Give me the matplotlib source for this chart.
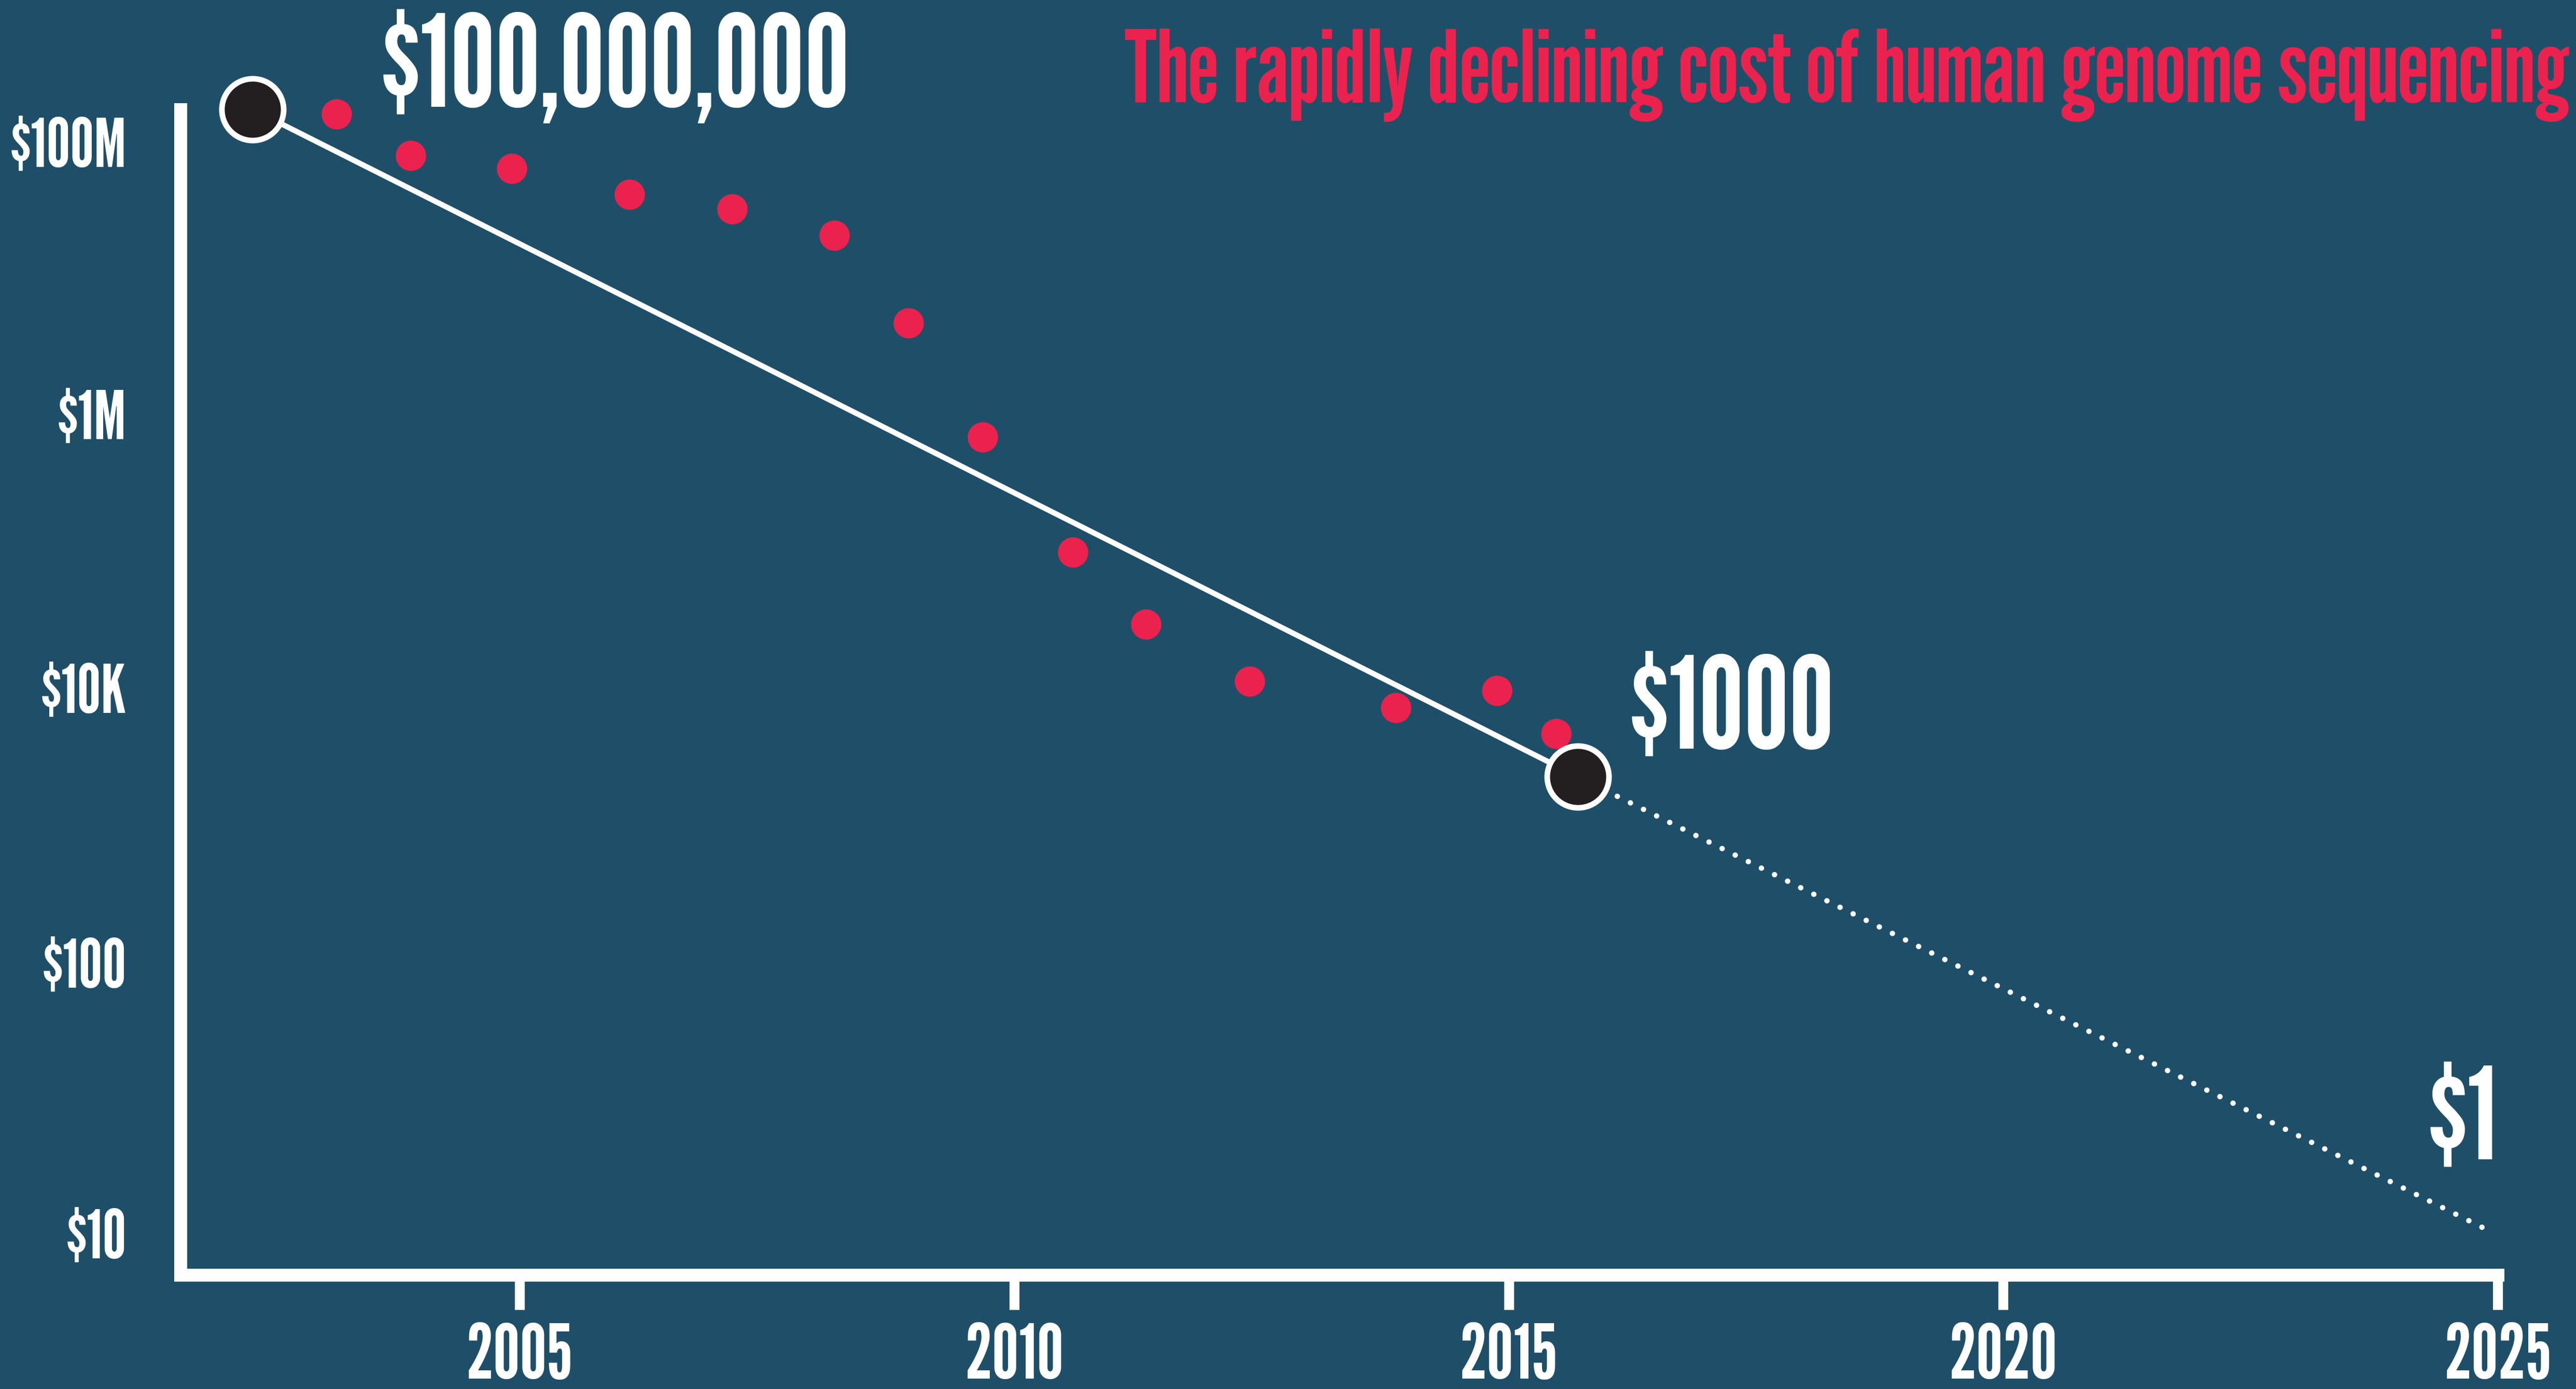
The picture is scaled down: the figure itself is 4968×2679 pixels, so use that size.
import matplotlib
matplotlib.use("Agg")
import matplotlib.pyplot as plt
import numpy as np

# data (cost in US dollars, log scale)
years_red = [2003.15, 2003.90, 2004.92, 2006.11, 2007.15, 2008.18, 2008.93,
             2009.68, 2010.59, 2011.33, 2012.38, 2013.86, 2014.88, 2015.48]
cost_red = [9.2e7, 4.5e7, 3.6e7, 2.3e7, 1.8e7, 1.14e7, 2.5e6,
            3.5e5, 4.8e4, 1.39e4, 5.2e3, 3.3e3, 4.4e3, 2.1e3]

years_key = [2002.3, 2015.7]
cost_key = [1e8, 1e3]
key_labels = ["$100,000,000", "$1000"]

years_proj = [2015.7, 2024.93]
cost_proj = [1e3, 0.39]
proj_label = "$1"

xticks = [2005, 2010, 2015, 2020, 2025]
ytick_exp = [7.76, 5.72, 3.67, 1.61, -0.42]
ytick_labels = ["$100M", "$1M", "$10K", "$100", "$10"]

title = "The rapidly declining cost of human genome sequencing"

bg = "#1f4f68"
red = "#ec224e"
dark = "#231f20"
fam = ["League Gothic", "Oswald", "PT Sans Narrow", "DejaVu Sans"]
plt.rcParams["font.family"] = fam

fig = plt.figure(figsize=(16.56, 8.9333), dpi=300, facecolor=bg)
ax = fig.add_axes([0.07005, 0.08209, 0.8996, 0.8388])
ax.set_facecolor(bg)
ax.set_yscale("log")
ax.set_xlim(2001.57, 2025)
ax.set_ylim(10 ** -0.733, 1e8)

for s in ["top", "right"]:
    ax.spines[s].set_visible(False)
for s in ["left", "bottom"]:
    ax.spines[s].set_color("white")
    ax.spines[s].set_linewidth(6)

ax.set_xticks(xticks)
ax.set_xticklabels([str(x) for x in xticks])
ax.tick_params(axis="x", colors="white", direction="out", length=16, width=4.6,
               pad=6, labelsize=35)
ax.set_yticks([10 ** e for e in ytick_exp])
ax.set_yticklabels(ytick_labels)
ax.yaxis.set_minor_locator(matplotlib.ticker.NullLocator())
ax.tick_params(axis="y", colors="white", length=0, pad=25, labelsize=31)

# trend line and projection
ax.plot(years_key, cost_key, color="white", lw=2.5, zorder=2, solid_capstyle="butt")
ax.plot(years_proj, cost_proj, color="white", lw=2.5, zorder=2,
        linestyle=(0, (0.01, 2.7)), dash_capstyle="round", clip_on=False)

# actual costs
ax.plot(years_red, cost_red, "o", color=red, ms=14, mew=0, zorder=3, clip_on=False)

# key points
ax.plot(years_key, cost_key, "o", mfc=dark, mec="white", ms=28.6, mew=2.6,
        zorder=4, clip_on=False)

ax.annotate(key_labels[0], xy=(years_key[0], cost_key[0]), xytext=(59.3, 1.4),
            textcoords="offset points", ha="left", va="baseline",
            color="white", fontsize=59)
ax.annotate(key_labels[1], xy=(years_key[1], cost_key[1]), xytext=(23.8, 13.0),
            textcoords="offset points", ha="left", va="baseline",
            color="white", fontsize=59)
ax.annotate(proj_label, xy=(years_proj[1], cost_proj[1]), xytext=(3.1, 33.6),
            textcoords="offset points", ha="right", va="baseline",
            color="white", fontsize=59)

fig.text(0.9974, 1 - 197 / 2680, title, ha="right", va="baseline",
         color=red, fontsize=46)

fig.savefig("out.png", dpi=300, facecolor=bg)
